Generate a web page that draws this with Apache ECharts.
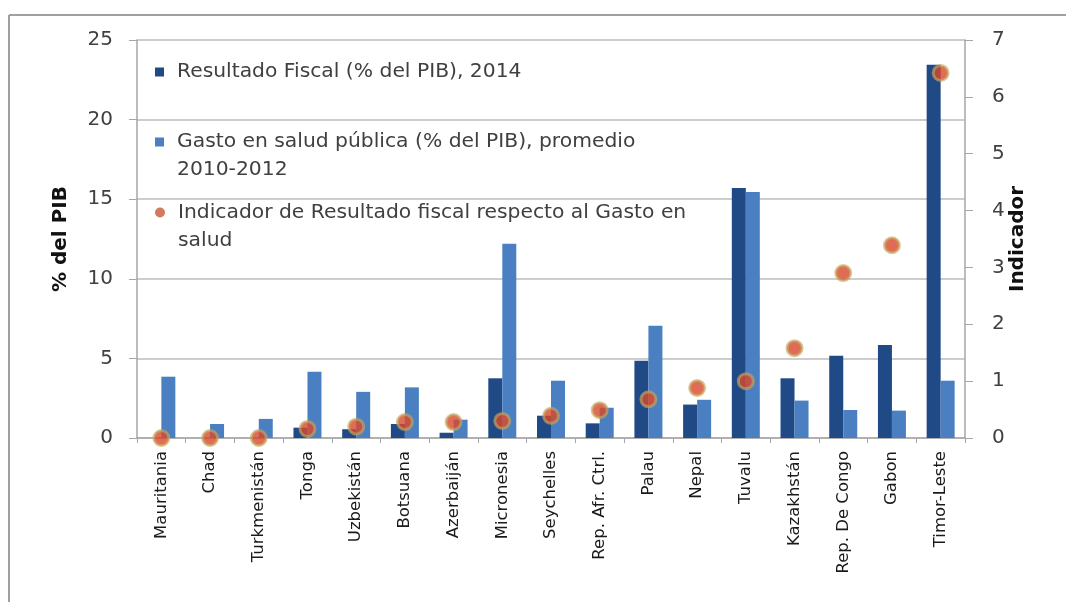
<!DOCTYPE html>
<html>
<head>
<meta charset="utf-8">
<script src="https://cdn.jsdelivr.net/npm/echarts@6/dist/echarts.min.js"></script>
<style>
html,body{margin:0;padding:0;background:#fff;}
#chart{width:1066px;height:602px;}
</style>
</head>
<body>
<div id="chart"></div>
<script>
var categories = ['Mauritania','Chad','Turkmenistán','Tonga','Uzbekistán','Botsuana','Azerbaiján','Micronesia','Seychelles','Rep. Afr. Ctrl.','Palau','Nepal','Tuvalu','Kazakhstán','Rep. De Congo','Gabon','Timor-Leste'];
var fiscalResult = [0, 0, 0, 0.65, 0.55, 0.88, 0.33, 3.75, 1.4, 0.92, 4.86, 2.1, 15.7, 3.75, 5.17, 5.84, 23.45];
var healthSpending = [3.85, 0.88, 1.2, 4.16, 2.9, 3.18, 1.15, 12.2, 3.6, 1.9, 7.05, 2.4, 15.45, 2.35, 1.76, 1.72, 3.6];
var indicator = [0, 0, 0, 0.16, 0.2, 0.28, 0.28, 0.3, 0.39, 0.49, 0.68, 0.88, 1.0, 1.58, 2.9, 3.39, 6.42];
var leftTicks = {min: 0, max: 25, interval: 5};
var rightTicks = {min: 0, max: 7, interval: 1};

var nameFiscal = 'Resultado Fiscal (% del PIB), 2014';
var nameHealth = 'Gasto en salud pública (% del PIB), promedio 2010-2012';
var nameInd = 'Indicador de Resultado fiscal respecto al Gasto en salud';
var labelHealth = ['Gasto en salud pública (% del PIB), promedio', '2010-2012'];
var labelInd = ['Indicador de Resultado fiscal respecto al Gasto en', 'salud'];

var FONT = '"DejaVu Sans", "Open Sans", sans-serif';
var chart = echarts.init(document.getElementById('chart'), null, {renderer: 'canvas'});
var legendText = {fontFamily: FONT, fontSize: 20.3, color: '#404040', lineHeight: 28, padding: [0, 0, 0, 8]};

var option = {
  backgroundColor: '#ffffff',
  animation: false,
  graphic: [
    {type: 'line', shape: {x1: 9, y1: 15, x2: 1066, y2: 15}, style: {stroke: '#a0a0a0', lineWidth: 2}},
    {type: 'line', shape: {x1: 9, y1: 15, x2: 9, y2: 602}, style: {stroke: '#a0a0a0', lineWidth: 2}}
  ],
  grid: {left: 137, right: 101, top: 40, bottom: 164, containLabel: false},
  legend: [
    {
      left: 155, top: 58, padding: 0, itemWidth: 9, itemHeight: 9,
      data: [{name: nameFiscal, icon: 'rect'}],
      textStyle: legendText
    },
    {
      left: 155, top: 100, padding: 0, itemWidth: 9, itemHeight: 9,
      data: [{name: nameHealth, icon: 'rect'}],
      formatter: function () { return '\n' + labelHealth.join('\n'); },
      textStyle: legendText
    },
    {
      left: 155, top: 170.5, padding: 0, itemWidth: 10, itemHeight: 10,
      data: [{name: nameInd, icon: 'circle', itemStyle: {color: '#C45A35', borderWidth: 0}}],
      formatter: function () { return '\n' + labelInd.join('\n'); },
      textStyle: legendText
    }
  ],
  xAxis: {
    type: 'category',
    data: categories,
    boundaryGap: true,
    axisLine: {show: true, lineStyle: {color: '#a6a6a6', width: 1.5}},
    axisTick: {show: true, length: 5, lineStyle: {color: '#a6a6a6'}},
    axisLabel: {interval: 0, rotate: 90, margin: 13, fontFamily: FONT, fontSize: 16.5, color: '#1a1a1a'},
    splitLine: {show: false}
  },
  yAxis: [
    {
      type: 'value',
      min: leftTicks.min, max: leftTicks.max, interval: leftTicks.interval,
      position: 'left',
      name: '% del PIB', nameLocation: 'middle', nameRotate: 90, nameGap: 66, nameMoveOverlap: false,
      nameTextStyle: {fontFamily: FONT, fontSize: 20, fontWeight: 'bold', color: '#111'},
      axisLine: {show: true, lineStyle: {color: '#a6a6a6', width: 1.5}},
      axisTick: {show: true, length: 8, lineStyle: {color: '#a6a6a6'}},
      axisLabel: {margin: 24, fontFamily: FONT, fontSize: 20, color: '#404040'},
      splitLine: {show: true, lineStyle: {color: '#bdbdbd', width: 1.5}}
    },
    {
      type: 'value',
      min: rightTicks.min, max: rightTicks.max, interval: rightTicks.interval,
      position: 'right',
      name: 'Indicador', nameLocation: 'middle', nameRotate: 90, nameGap: 43, nameMoveOverlap: false,
      nameTextStyle: {fontFamily: FONT, fontSize: 20, fontWeight: 'bold', color: '#111'},
      axisLine: {show: true, lineStyle: {color: '#a6a6a6', width: 1.5}},
      axisTick: {show: true, length: 8, lineStyle: {color: '#a6a6a6'}},
      axisLabel: {margin: 27, fontFamily: FONT, fontSize: 20, color: '#404040'},
      splitLine: {show: false}
    }
  ],
  series: [
    {
      name: nameFiscal, type: 'bar', yAxisIndex: 0,
      data: fiscalResult, barWidth: 14, barGap: '0%',
      itemStyle: {color: '#1F4A86'}
    },
    {
      name: nameHealth, type: 'bar', yAxisIndex: 0,
      data: healthSpending, barWidth: 14, barGap: '0%',
      itemStyle: {color: '#4A80C2'}
    },
    {
      name: nameInd, type: 'scatter', yAxisIndex: 1,
      data: indicator, symbol: 'circle', symbolSize: 15,
      itemStyle: {color: '#D9472A', borderColor: 'rgba(196,168,96,0.8)', borderWidth: 3},
      z: 5
    }
  ]
};
chart.setOption(option);
</script>
</body>
</html>
